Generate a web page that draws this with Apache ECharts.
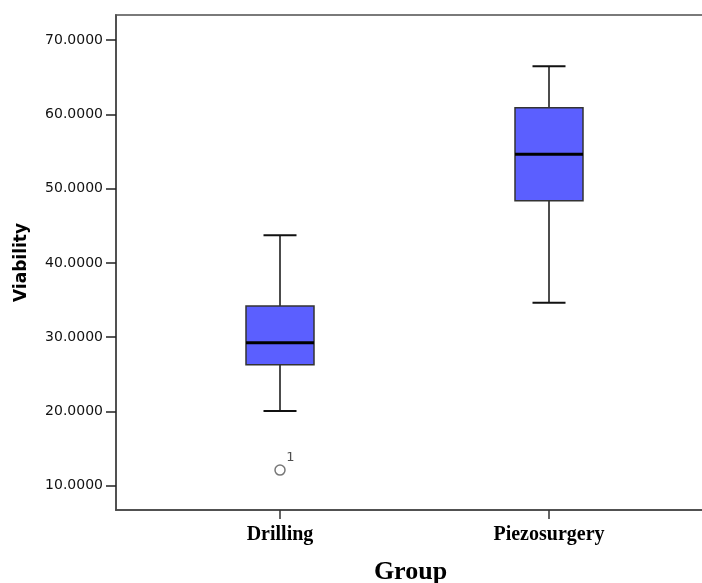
<!DOCTYPE html>
<html>
<head>
<meta charset="utf-8">
<script src="https://cdn.jsdelivr.net/npm/echarts@6/dist/echarts.min.js"></script>
<style>
html,body{margin:0;padding:0;background:#fff;}
#chart{width:702px;height:583px;}
</style>
</head>
<body>
<div id="chart"></div>
<script>
const categories = ['Drilling', 'Piezosurgery'];
const whiskerLow = [20.06, 34.62];
const q1 = [26.27, 48.38];
const median = [29.23, 54.63];
const q3 = [34.20, 60.89];
const whiskerHigh = [43.73, 66.46];
const outliers = [[0, 12.1, '1']];
const yTicks = [10, 20, 30, 40, 50, 60, 70];
const yMin = 6.73, yMax = 73.37;

const boxData = categories.map((c, i) => [i, whiskerLow[i], q1[i], median[i], q3[i], whiskerHigh[i]]);

const chart = echarts.init(document.getElementById('chart'));
chart.setOption({
  animation: false,
  backgroundColor: '#fff',
  grid: [
    {left: 116, top: 15, right: -3, bottom: 73, show: true, borderColor: '#7a7a7a', borderWidth: 2,
      containLabel: false, outerBoundsMode: 'none'},
    {left: 145.5, top: 15, right: 18.5, bottom: 73, containLabel: false, outerBoundsMode: 'none'}
  ],
  xAxis: [
    {
      gridIndex: 0, type: 'value', min: 0, max: 1,
      axisLine: {show: true, lineStyle: {color: '#444', width: 1.5}},
      axisTick: {show: false}, axisLabel: {show: false}, splitLine: {show: false},
      name: 'Group', nameLocation: 'middle', nameGap: 49,
      nameTextStyle: {fontFamily: 'Liberation Serif', fontWeight: 'bold', fontSize: 26, color: '#000'}
    },
    {
      gridIndex: 1, type: 'category', data: categories,
      axisLine: {show: false},
      axisTick: {show: true, alignWithLabel: true, length: 9, lineStyle: {color: '#333', width: 1.5}},
      axisLabel: {margin: 15, fontFamily: 'Liberation Serif', fontWeight: 'bold', fontSize: 20, color: '#000'},
      splitLine: {show: false}
    }
  ],
  yAxis: [
    {
      gridIndex: 0, type: 'value', min: yMin, max: yMax,
      axisLine: {show: true, lineStyle: {color: '#444', width: 1.5}},
      axisTick: {show: true, length: 10, lineStyle: {color: '#222', width: 1.5}, customValues: yTicks},
      axisLabel: {margin: 13, fontFamily: 'DejaVu Sans', fontSize: 14, color: '#111', customValues: yTicks,
        formatter: v => Number(v).toFixed(4)},
      splitLine: {show: false},
      name: 'Viability', nameLocation: 'middle', nameGap: 86, nameRotate: 90,
      nameTextStyle: {fontFamily: 'DejaVu Sans', fontWeight: 'bold', fontSize: 17, color: '#000'}
    },
    {
      gridIndex: 1, type: 'value', min: yMin, max: yMax, show: false
    }
  ],
  series: [
    {
      type: 'custom',
      xAxisIndex: 1, yAxisIndex: 1,
      encode: {x: 0, y: [1, 2, 3, 4, 5]},
      data: boxData,
      renderItem: function (params, api) {
        const x = api.value(0);
        const lo = api.coord([x, api.value(1)]);
        const b1 = api.coord([x, api.value(2)]);
        const md = api.coord([x, api.value(3)]);
        const b3 = api.coord([x, api.value(4)]);
        const hi = api.coord([x, api.value(5)]);
        const cx = lo[0];
        const bw = 34, cw = 16.5;
        const ws = {stroke: '#111', lineWidth: 1.5};
        return {
          type: 'group',
          children: [
            {type: 'line', shape: {x1: cx, y1: hi[1], x2: cx, y2: b3[1]}, style: ws},
            {type: 'line', shape: {x1: cx, y1: b1[1], x2: cx, y2: lo[1]}, style: ws},
            {type: 'line', shape: {x1: cx - cw, y1: hi[1], x2: cx + cw, y2: hi[1]}, style: {stroke: '#111', lineWidth: 2}},
            {type: 'line', shape: {x1: cx - cw, y1: lo[1], x2: cx + cw, y2: lo[1]}, style: {stroke: '#111', lineWidth: 2}},
            {type: 'rect', shape: {x: cx - bw, y: b3[1], width: 2 * bw, height: b1[1] - b3[1]},
              style: {fill: '#5b5fff', stroke: '#333', lineWidth: 1.5}},
            {type: 'line', shape: {x1: cx - bw, y1: md[1], x2: cx + bw, y2: md[1]}, style: {stroke: '#000', lineWidth: 3}}
          ]
        };
      }
    },
    {
      type: 'scatter',
      xAxisIndex: 1, yAxisIndex: 1,
      symbol: 'circle', symbolSize: 10,
      itemStyle: {color: '#fff', borderColor: '#555', borderWidth: 1.5},
      label: {show: true, position: [12, -13], align: 'left', verticalAlign: 'top',
        formatter: p => p.data[2], fontFamily: 'DejaVu Sans', fontSize: 13, color: '#222'},
      data: outliers
    }
  ]
});
</script>
</body>
</html>
